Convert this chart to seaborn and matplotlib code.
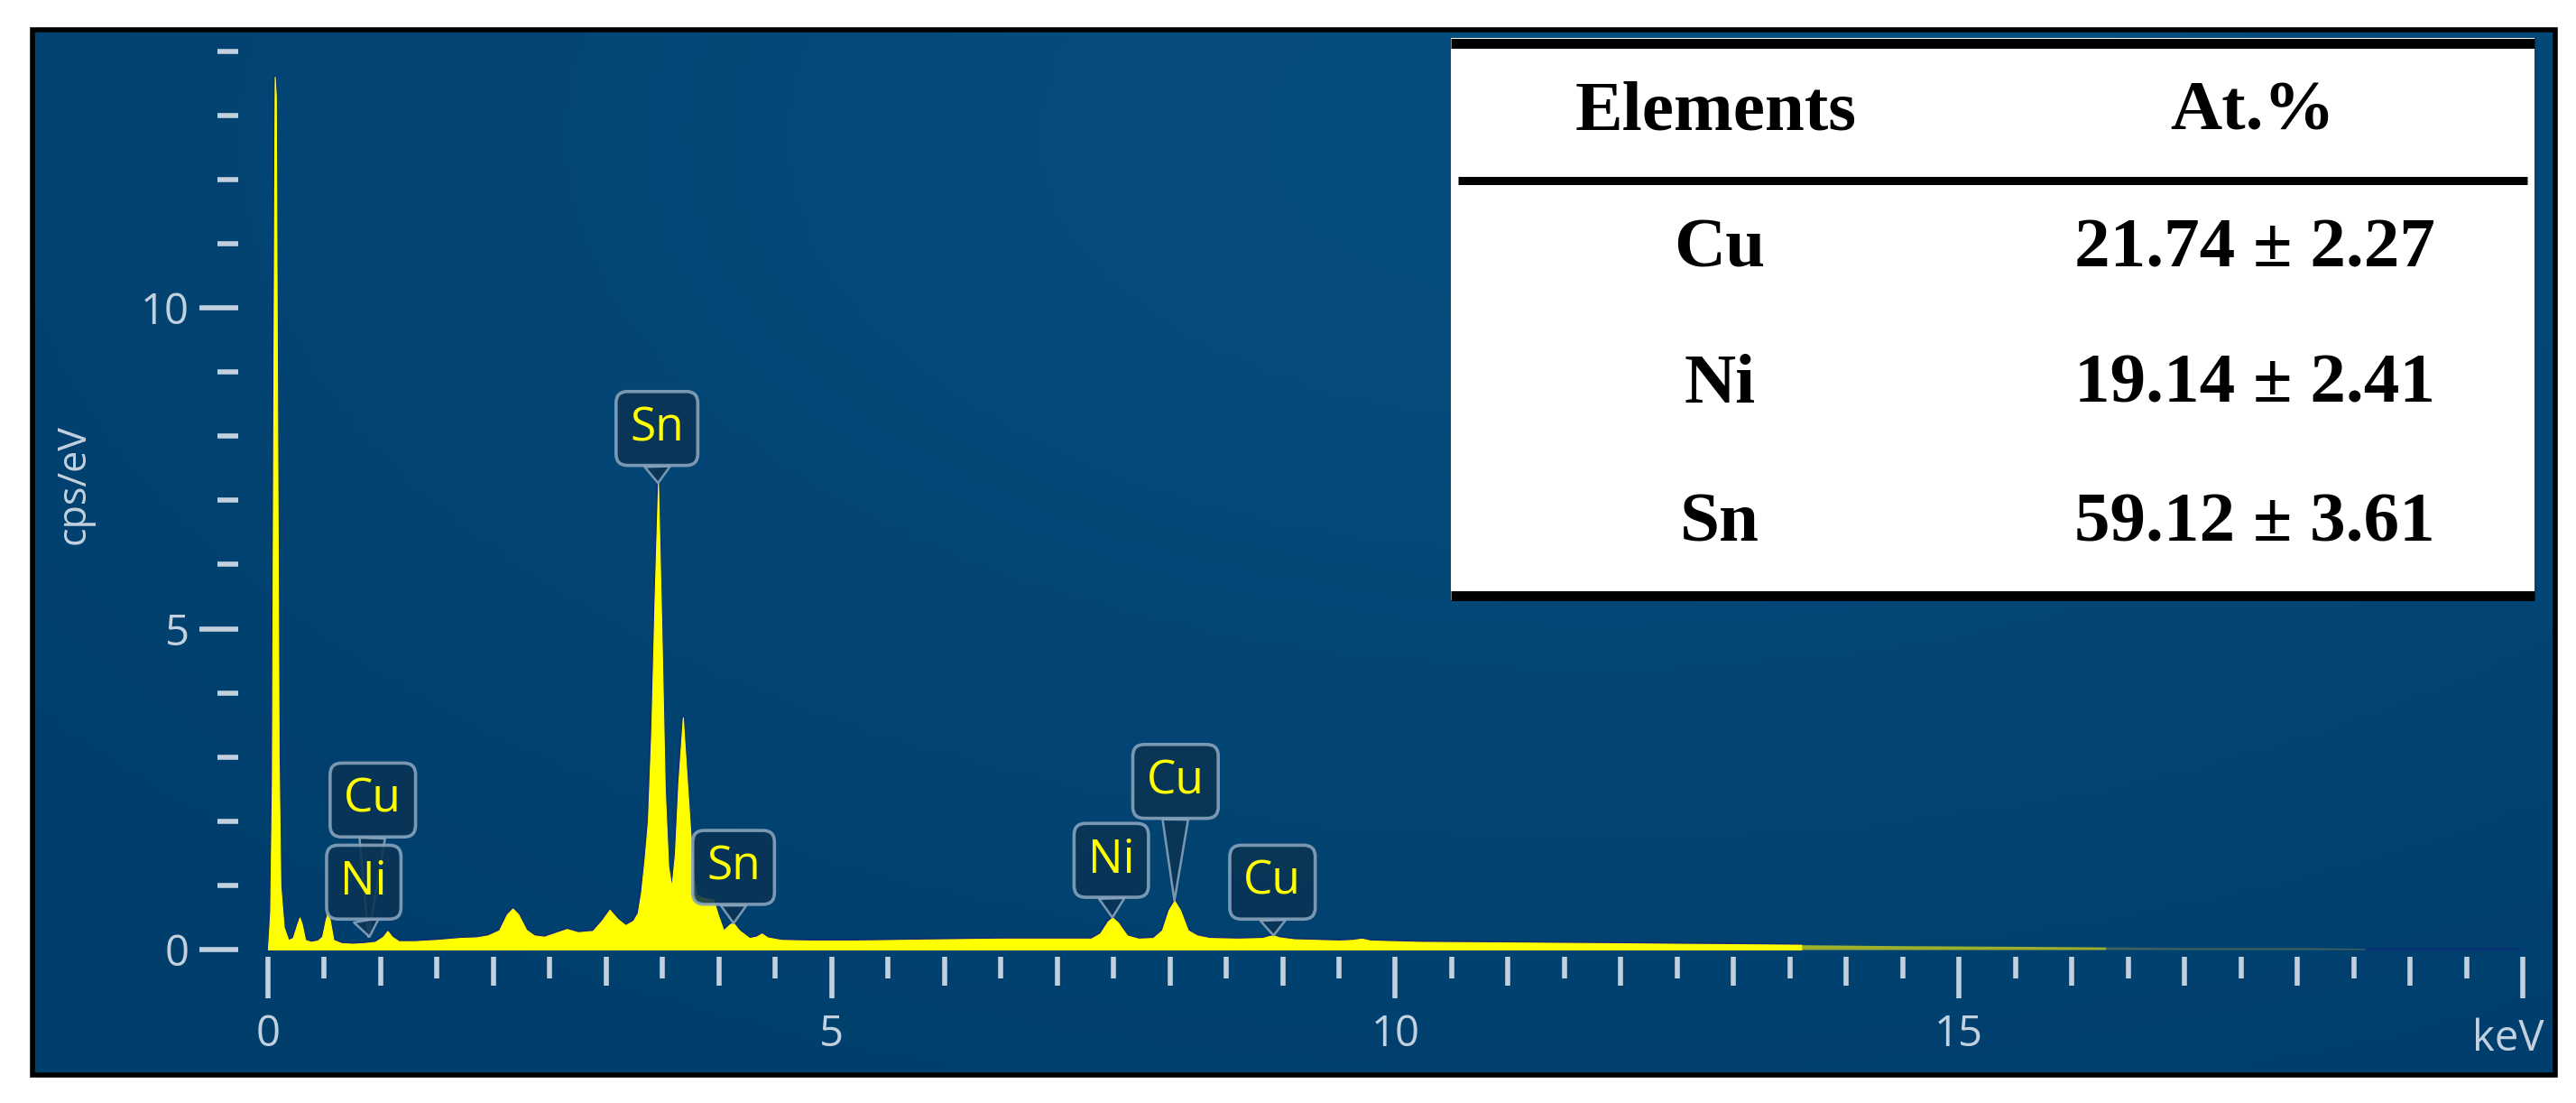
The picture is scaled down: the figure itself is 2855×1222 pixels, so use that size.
import numpy as np
import matplotlib
matplotlib.use("Agg")
import matplotlib.pyplot as plt
import seaborn as sns
from matplotlib.patches import Rectangle
from matplotlib.colors import LinearSegmentedColormap

# EDS spectrum (keV, cps/eV)
energy_kev = [0.00, 0.02, 0.035, 0.05, 0.06, 0.07, 0.08, 0.095, 0.11, 0.14, 0.18,
              0.22, 0.26, 0.28, 0.30, 0.33, 0.38, 0.44, 0.48, 0.51, 0.53,
              0.55, 0.58, 0.65, 0.75, 0.85, 0.95, 1.02, 1.06, 1.10, 1.16,
              1.30, 1.50, 1.70, 1.85, 1.95, 2.05, 2.12, 2.17, 2.22, 2.29,
              2.36, 2.45, 2.55, 2.65, 2.75, 2.88, 2.96, 3.03, 3.10, 3.17,
              3.24, 3.28, 3.31, 3.34, 3.37, 3.40, 3.43, 3.46, 3.49, 3.52,
              3.55, 3.58, 3.61, 3.64, 3.68, 3.71, 3.74, 3.77, 3.80, 3.88,
              3.95, 3.99, 4.04, 4.10, 4.13, 4.18, 4.27, 4.33, 4.38, 4.43,
              4.55, 4.80, 5.20, 5.60, 6.00, 6.50, 7.00, 7.30, 7.38, 7.45,
              7.49, 7.54, 7.62, 7.72, 7.85, 7.93, 7.99, 8.04, 8.09, 8.16,
              8.24, 8.35, 8.60, 8.82, 8.88, 8.92, 8.97, 9.10, 9.50, 9.62,
              9.70, 9.78, 10.20, 11.00, 11.80, 12.50, 13.60]
counts = [0.00, 0.60, 2.60, 9.50, 13.60, 13.30, 9.00, 3.00, 1.00, 0.35, 0.15,
          0.18, 0.40, 0.50, 0.40, 0.15, 0.12, 0.14, 0.20, 0.45, 0.59,
          0.45, 0.15, 0.10, 0.09, 0.10, 0.12, 0.20, 0.29, 0.20, 0.13,
          0.13, 0.15, 0.18, 0.19, 0.22, 0.30, 0.55, 0.64, 0.55, 0.31,
          0.22, 0.20, 0.26, 0.32, 0.27, 0.29, 0.45, 0.62, 0.48, 0.38,
          0.45, 0.57, 0.90, 1.40, 2.00, 3.40, 5.50, 7.27, 5.00, 2.50,
          1.30, 0.97, 1.50, 2.60, 3.62, 2.80, 2.00, 1.20, 0.85, 0.80,
          0.78, 0.55, 0.30, 0.40, 0.41, 0.30, 0.18, 0.20, 0.25, 0.19,
          0.15, 0.14, 0.14, 0.15, 0.16, 0.17, 0.17, 0.17, 0.25, 0.44,
          0.50, 0.42, 0.22, 0.17, 0.18, 0.30, 0.62, 0.76, 0.62, 0.30,
          0.22, 0.18, 0.17, 0.18, 0.21, 0.22, 0.19, 0.16, 0.14, 0.15,
          0.17, 0.14, 0.12, 0.11, 0.10, 0.09, 0.075]

# weak high-energy tail, fading out
tail_kev = [13.6, 14.5, 15.5, 16.3]
tail_counts = [0.075, 0.06, 0.05, 0.04]
far_kev = [16.3, 17.0, 18.0, 18.6]
far_counts = [0.04, 0.03, 0.03, 0.02]

# peak markers
peak_labels = ["Cu", "Ni", "Sn", "Sn", "Ni", "Cu", "Cu"]
peak_kev = [0.89, 0.90, 3.46, 4.13, 7.49, 8.04, 8.92]
peak_cps = [0.20, 0.20, 7.27, 0.41, 0.50, 0.76, 0.22]

# axis ticks
x_major = [0, 5, 10, 15, 20]
x_major_labels = ["0", "5", "10", "15", ""]
y_major = [0, 5, 10]

# composition table
table_header = ["Elements", "At.%"]
table_elements = ["Cu", "Ni", "Sn"]
table_values = ["21.74 \u00b1 2.27", "19.14 \u00b1 2.41", "59.12 \u00b1 3.61"]

sns.set_theme(style="white")
plt.rcParams["font.family"] = ["Open Sans", "DejaVu Sans"]

tick_col = "#c3d1de"
yellow = "#ffff00"
navy = "#13297a"

fig = plt.figure(figsize=(28.55, 12.22), dpi=100)
fig.patch.set_facecolor("white")

# blue panel with a soft glow
bg = fig.add_axes([0.0126, 0.0254, 0.9793, 0.9476], zorder=0)
yy, xx = np.mgrid[0:1:200j, 0:1:400j]
glow = np.exp(-(((xx - 0.62) / 0.6) ** 2 + ((yy - 0.9) / 0.75) ** 2))
bg_cmap = LinearSegmentedColormap.from_list("bg", ["#003e6b", "#064d7f"])
bg.imshow(glow, cmap=bg_cmap, extent=[0, 1, 0, 1], aspect="auto", origin="lower")
bg.axis("off")
bg.add_patch(Rectangle((0, 0), 1, 1, transform=bg.transAxes, fill=False,
                       ec="black", lw=4, clip_on=False))

# spectrum axes
ax = fig.add_axes([0.10403, 0.13912, 0.8753, 0.8320], zorder=1)
ax.set_facecolor("none")
sns.lineplot(x=energy_kev, y=counts, ax=ax, color=navy, lw=2.2, zorder=2)
ax.fill_between(energy_kev, counts, 0, color=yellow, lw=0.8, ec=yellow, zorder=3)
ax.fill_between(tail_kev, tail_counts, 0, color=yellow, alpha=0.6, lw=0, zorder=3)
ax.fill_between(far_kev, far_counts, 0, color="#9fbf3a", alpha=0.35, lw=0, zorder=3)
ax.axhline(0, color=navy, lw=2.5, zorder=1)

ax.set_xlim(0, 20)
ax.set_ylim(0, 14.3)
for s in ax.spines.values():
    s.set_visible(False)
ax.spines["left"].set_position(("outward", 23.8))
ax.spines["bottom"].set_position(("outward", 5.8))

ax.set_xticks(x_major, labels=x_major_labels)
ax.set_xticks(np.arange(0.5, 20, 1.0), minor=True)
ax.set_yticks(y_major)
ax.set_yticks([k for k in range(1, 15) if k % 5 != 0], minor=True)

ax.tick_params(axis="x", which="major", direction="out", length=33, width=4,
               color=tick_col, labelcolor=tick_col, labelsize=34, pad=12, bottom=True)
ax.tick_params(axis="x", which="minor", direction="out", length=17, width=4,
               color=tick_col, bottom=True)
ax.tick_params(axis="y", which="major", direction="out", length=31, width=4,
               color=tick_col, labelcolor=tick_col, labelsize=34, pad=8, left=True)
ax.tick_params(axis="y", which="minor", direction="out", length=16.5, width=4,
               color=tick_col, left=True)

# integer keV ticks are a bit longer than the half-keV ones
sec = ax.secondary_xaxis(-8 / 1016.7)
sec.set_xticks([k for k in range(1, 20) if k % 5 != 0])
sec.tick_params(direction="out", length=23, width=4, color=tick_col,
                labelbottom=False)
for s in sec.spines.values():
    s.set_visible(False)

ax.set_xlabel("keV", fontsize=34, color=tick_col, ha="right", va="top")
ax.xaxis.set_label_coords(1.0096, -0.074)
ax.set_ylabel("cps/eV", fontsize=31, color=tick_col, ha="center", va="center")
ax.yaxis.set_label_coords(-0.086, 0.5066)

# callout boxes (text position offsets are layout only)
box_kev = [0.93, 0.85, 3.45, 4.13, 7.48, 8.05, 8.91]
box_cps = [2.33, 1.05, 8.12, 1.28, 1.39, 2.62, 1.05]
for name, px, py, bx, by in zip(peak_labels, peak_kev, peak_cps, box_kev, box_cps):
    ax.annotate(name, xy=(px, py), xytext=(bx, by), color=yellow, fontsize=37,
                ha="center", va="center", zorder=5,
                bbox=dict(boxstyle="round,pad=0.3,rounding_size=0.25",
                          fc="#0a3454", ec="#8ba5bd", lw=2.6, alpha=0.88),
                arrowprops=dict(arrowstyle="wedge,tail_width=0.55,shrink_factor=0.5",
                                fc="#0a3454", ec="#8ba5bd", lw=1.8, alpha=0.88,
                                relpos=(0.5, 0.0), shrinkA=0, shrinkB=0))

# table overlay in pixel coordinates
tab = fig.add_axes([0, 0, 1, 1], zorder=3)
tab.set_xlim(0, 2855)
tab.set_ylim(1222, 0)
tab.axis("off")
tab.add_patch(Rectangle((1608, 42), 1201, 623, fc="white", ec="none"))
tab.hlines([47.5, 659.5], 1608, 2809, color="black", lw=7.9)
tab.hlines(200, 1616, 2801, color="black", lw=6.5)
serif = dict(family=["Liberation Serif", "DejaVu Serif"], weight="bold",
             fontsize=57, color="black", ha="center", va="baseline")
tab.text(1902, 143, table_header[0], **serif)
tab.text(2497, 143, table_header[1], **serif)
for el, val, base in zip(table_elements, table_values, [295, 446, 600]):
    tab.text(1906, base, el, **serif)
    tab.text(2499, base, val, **serif)

fig.savefig("out.png", dpi=100)
